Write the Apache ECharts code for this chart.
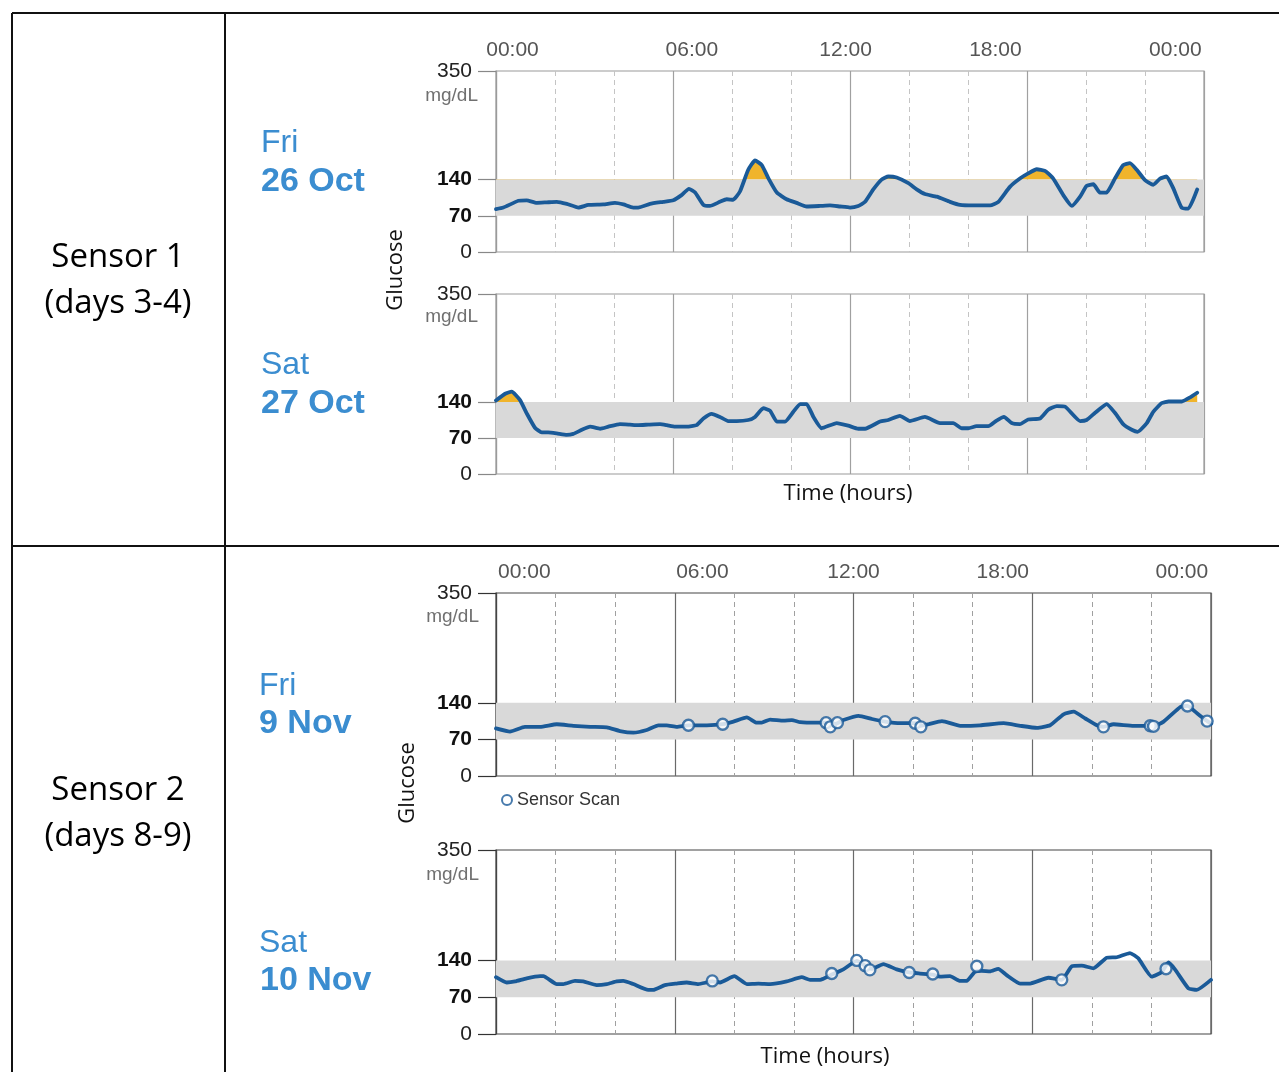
<!DOCTYPE html>
<html><head><meta charset="utf-8">
<script src="https://cdn.jsdelivr.net/npm/echarts@6/dist/echarts.min.js"></script>
<style>html,body{margin:0;padding:0;background:#fff}#c{width:1279px;height:1072px}</style>
</head><body><div id="c"></div><script>
// ---------- data ----------
const timeTickLabels = ['00:00', '06:00', '12:00', '18:00', '00:00'];
const yTickValues = [0, 70, 140, 350];
const targetRange = [70, 140];
const highThreshold = 140;

const hoursFri26 = [0,0.25,0.76,1.04,1.38,1.72,2.06,2.40,2.79,3.13,3.64,4.03,4.32,4.65,4.82,5.22,5.67,6.01,6.29,6.54,6.75,7.03,7.25,7.59,7.82,8.04,8.27,8.55,8.78,9.01,9.23,9.52,9.85,10.19,10.53,10.98,11.32,11.66,12.0,12.28,12.51,12.79,13.07,13.30,13.58,13.98,14.26,14.54,14.94,15.39,15.73,16.18,16.75,17.03,17.42,17.76,18.04,18.33,18.61,18.89,19.23,19.52,19.80,20.02,20.25,20.47,20.70,20.98,21.26,21.49,21.72,22.0,22.28,22.51,22.73,22.96,23.24,23.47,23.77];
const glucoseFri26 = [83,86,99,100,95,96,97,93,86,91,92,95,92,86,86,93,97,100,110,122,115,91,89,97,102,101,117,159,177,168,143,115,102,95,88,89,90,88,86,89,97,121,140,146,144,133,121,112,107,97,91,90,90,97,126,142,152,160,157,142,110,89,107,128,131,115,115,142,168,172,159,139,130,142,146,123,86,84,121];

const hoursSat27 = [0,0.31,0.53,0.81,1.04,1.32,1.55,1.77,2.06,2.40,2.62,2.91,3.19,3.53,3.81,4.20,4.54,4.82,5.16,5.56,5.79,6.07,6.46,6.80,7.03,7.31,7.59,7.87,8.16,8.55,8.78,9.06,9.29,9.52,9.80,10.08,10.31,10.53,10.76,11.04,11.55,11.94,12.28,12.51,13.02,13.30,13.69,14.03,14.54,15.05,15.50,15.79,16.01,16.29,16.69,16.97,17.22,17.48,17.76,18.04,18.44,18.72,19.01,19.29,19.80,20.02,20.31,20.70,20.98,21.26,21.55,21.75,22.06,22.28,22.57,22.80,23.25,23.53,23.77];
const glucoseSat27 = [143,156,160,144,118,90,81,81,79,76,78,86,92,88,92,97,96,95,96,97,95,92,92,95,108,117,111,103,103,105,111,128,123,102,102,121,136,136,111,89,99,94,88,88,102,105,113,103,111,99,99,89,89,93,93,104,111,99,97,106,108,125,132,131,103,105,119,136,119,97,86,82,99,121,138,141,141,149,158];

const hoursFri9 = [0,0.47,0.97,1.48,2.04,2.60,3.16,3.72,4.16,4.61,5.06,5.45,5.73,6.07,6.46,7.08,7.61,7.97,8.42,8.75,8.92,9.20,9.65,9.93,10.21,10.77,11.08,11.22,11.46,11.66,12.17,12.62,13.06,13.57,14.07,14.26,14.52,14.97,15.58,16.25,17.04,17.60,18.16,18.60,19.05,19.39,19.78,20.17,20.39,20.73,21.40,21.96,22.07,22.41,22.97,23.21,23.53,23.87,24.0];
const glucoseFri9 = [91,85,94,94,99,96,94,93,86,83,88,97,97,94,97,97,99,104,112,102,102,108,106,107,103,102,102,97,101,107,115,109,104,101,101,96,99,105,96,97,101,96,92,97,118,123,110,97,94,99,96,96,95,104,132,134,120,105,100];
const scanHoursFri9 = [6.46,7.61,11.08,11.22,11.46,13.06,14.07,14.26,20.39,21.96,22.07,23.21,23.87];
const scanGlucoseFri9 = [97,99,102,94,102,104,101,94,94,96,95,134,105];

const hoursSat10 = [0,0.36,0.64,1.03,1.48,1.59,2.04,2.26,2.65,2.93,3.38,3.72,4.05,4.27,4.61,5.11,5.28,5.67,6.07,6.40,6.79,7.26,7.52,8.00,8.42,8.81,9.20,9.76,10.26,10.54,10.88,11.27,11.66,12.11,12.45,12.62,13.00,13.45,13.87,14.23,14.66,14.90,15.24,15.58,15.80,16.07,16.30,16.58,16.86,17.14,17.59,17.93,18.54,18.99,19.33,19.66,20.05,20.50,20.84,21.28,21.56,22.01,22.35,22.57,22.79,23.24,23.52,24.0];
const glucoseSat10 = [108,98,100,106,110,110,95,95,101,100,93,95,100,101,95,84,84,93,96,98,95,100,98,110,95,96,95,100,108,103,103,113,123,139,128,124,133,123,117,115,113,109,110,101,101,118,120,119,124,112,96,96,107,103,129,130,125,145,146,154,144,109,118,136,123,87,84,103];
const scanHoursSat10 = [7.26,11.27,12.11,12.39,12.55,13.87,14.66,16.14,18.99,22.49];
const scanGlucoseSat10 = [101,115,140,130,122,117,114,129,103,124];

// ---------- layout / style ----------
const pairs = (h, g) => h.map((x, i) => [x, g[i]]);
const panels = [
  { grid: {left: 496, top: 71, width: 708, height: 181}, hours: hoursFri26, glucose: glucoseFri26, highFill: true, dark: false,
    labelAt: [0.56, 6.64, 11.85, 16.93, 23.03] },
  { grid: {left: 496, top: 294, width: 708, height: 180}, hours: hoursSat27, glucose: glucoseSat27, highFill: true, dark: false },
  { grid: {left: 496, top: 593, width: 715, height: 183}, hours: hoursFri9, glucose: glucoseFri9, scanH: scanHoursFri9, scanG: scanGlucoseFri9, dark: true,
    labelAt: [0.95, 6.93, 12.0, 17.01, 23.02] },
  { grid: {left: 496, top: 850, width: 715, height: 184}, hours: hoursSat10, glucose: glucoseSat10, scanH: scanHoursSat10, scanG: scanGlucoseSat10, dark: true }
];
const LINE = '#1a5a98', YELLOW = '#f0b42c', BAND = '#d9d9d9', BLUE_TXT = '#3b8dd0';
const F_SANS = '"Liberation Sans", Arial, sans-serif';
const F_BODY = '"Open Sans", "Noto Sans", sans-serif';

const grids = [], xAxes = [], yAxes = [], series = [];
panels.forEach((p, i) => {
  const border = p.dark ? '#444' : '#9a9a9a';
  grids.push(Object.assign({show: true, borderColor: border, borderWidth: 1.2, backgroundColor: 'transparent'}, p.grid));
  xAxes.push({gridIndex: i, type: 'value', min: 0, max: 24, interval: 2,
    axisLine: {show: false}, axisTick: {show: false}, axisLabel: {show: false},
    splitLine: {show: true, lineStyle: {color: p.dark ? '#a0a0a0' : '#c4c4c4', width: 1, type: [5, 4]}}});
  const lab = p.labelAt;
  xAxes.push({gridIndex: i, type: 'value', position: 'top', min: 0, max: 24, interval: 6,
    axisLine: {show: false}, axisTick: {show: false},
    axisLabel: lab ? {show: true, customValues: lab, margin: 10, color: '#555', fontSize: 21, fontFamily: F_SANS,
      formatter: v => timeTickLabels[lab.findIndex(q => Math.abs(q - v) < 1e-6)] || ''} : {show: false},
    splitLine: {show: true, lineStyle: {color: p.dark ? '#6a6a6a' : '#a0a0a0', width: 1.2}}});
  yAxes.push({gridIndex: i, type: 'value', min: 0, max: 350,
    axisLine: {show: true, lineStyle: {color: border, width: 1.2}},
    axisTick: {show: true, customValues: yTickValues, length: 18, lineStyle: {color: p.dark ? '#333' : '#888', width: 1.2}},
    axisLabel: {show: true, customValues: yTickValues, margin: 24, fontFamily: F_SANS, fontSize: 21, color: '#111',
      formatter: v => (v === 70 || v === 140) ? '{b|' + v + '}' : '{n|' + v + '}',
      rich: {b: {fontWeight: 'bold', fontSize: 21, color: '#111', fontFamily: F_SANS}, n: {fontSize: 21, color: '#222', fontFamily: F_SANS}}},
    splitLine: {show: false}});
  const data = pairs(p.hours, p.glucose);
  if (p.highFill) {
    series.push({type: 'line', xAxisIndex: 2 * i, yAxisIndex: i, data, showSymbol: false, silent: true,
      lineStyle: {width: 0, opacity: 0}, areaStyle: {color: YELLOW, opacity: 1, origin: highThreshold}, z: 1});
  }
  series.push({type: 'line', xAxisIndex: 2 * i, yAxisIndex: i, data: [], silent: true,
    markArea: {silent: true, z: 2, itemStyle: {color: BAND}, data: [[{yAxis: targetRange[0]}, {yAxis: targetRange[1]}]]}, z: 2});
  series.push({type: 'line', name: 'Glucose', xAxisIndex: 2 * i, yAxisIndex: i, data, showSymbol: false, smooth: 0.15,
    lineStyle: {width: 3.8, color: LINE, join: 'round', cap: 'round'}, itemStyle: {color: LINE}, z: 3});
  if (p.scanH) {
    series.push({type: 'scatter', name: 'Sensor Scan', xAxisIndex: 2 * i, yAxisIndex: i, data: pairs(p.scanH, p.scanG),
      symbol: 'circle', symbolSize: 11, itemStyle: {color: '#fff', borderColor: LINE, borderWidth: 2.4}, z: 4});
  }
});

const txt = (x, y, s, font, extra) => Object.assign({type: 'text', x, y,
  style: Object.assign({text: s, font, fill: '#000', textAlign: 'left', textVerticalAlign: 'middle'}, extra || {})});
const ln = (x1, y1, x2, y2) => ({type: 'line', shape: {x1, y1, x2, y2}, style: {stroke: '#111', lineWidth: 2}});

const graphic = [
  ln(12, 13, 1279, 13), ln(12, 13, 12, 1072), ln(225, 13, 225, 1072), ln(12, 546, 1279, 546),
  txt(118, 258, 'Sensor 1', '33px ' + F_BODY, {textAlign: 'center'}),
  txt(118, 304, '(days 3-4)', '33px ' + F_BODY, {textAlign: 'center'}),
  txt(118, 791, 'Sensor 2', '33px ' + F_BODY, {textAlign: 'center'}),
  txt(118, 837, '(days 8-9)', '33px ' + F_BODY, {textAlign: 'center'}),
  txt(261, 143, 'Fri', '32px ' + F_SANS, {fill: BLUE_TXT}),
  txt(261, 182, '26 Oct', 'bold 34px ' + F_SANS, {fill: BLUE_TXT}),
  txt(261, 365, 'Sat', '32px ' + F_SANS, {fill: BLUE_TXT}),
  txt(261, 404, '27 Oct', 'bold 34px ' + F_SANS, {fill: BLUE_TXT}),
  txt(259, 686, 'Fri', '32px ' + F_SANS, {fill: BLUE_TXT}),
  txt(259, 724, '9 Nov', 'bold 34px ' + F_SANS, {fill: BLUE_TXT}),
  txt(259, 943, 'Sat', '32px ' + F_SANS, {fill: BLUE_TXT}),
  txt(260, 981, '10 Nov', 'bold 34px ' + F_SANS, {fill: BLUE_TXT}),
  txt(478, 96, 'mg/dL', '19px ' + F_SANS, {fill: '#707070', textAlign: 'right'}),
  txt(478, 317, 'mg/dL', '19px ' + F_SANS, {fill: '#707070', textAlign: 'right'}),
  txt(479, 617, 'mg/dL', '19px ' + F_SANS, {fill: '#707070', textAlign: 'right'}),
  txt(479, 875, 'mg/dL', '19px ' + F_SANS, {fill: '#707070', textAlign: 'right'}),
  Object.assign(txt(396, 270, 'Glucose', '22px ' + F_BODY, {textAlign: 'center', fill: '#111'}), {rotation: Math.PI / 2}),
  Object.assign(txt(408, 783, 'Glucose', '22px ' + F_BODY, {textAlign: 'center', fill: '#111'}), {rotation: Math.PI / 2}),
  txt(848, 494, 'Time (hours)', '22px ' + F_BODY, {textAlign: 'center', fill: '#111'}),
  txt(825, 1057, 'Time (hours)', '22px ' + F_BODY, {textAlign: 'center', fill: '#111'})
];

const chart = echarts.init(document.getElementById('c'), null, {renderer: 'canvas'});
chart.setOption({
  animation: false,
  backgroundColor: '#fff',
  grid: grids, xAxis: xAxes, yAxis: yAxes, series,
  legend: {data: ['Sensor Scan'], left: 496, top: 786, itemWidth: 10, itemHeight: 10, itemGap: 10,
    textStyle: {fontSize: 18, color: '#333', fontFamily: F_SANS}, selectedMode: false},
  graphic
});
</script></body></html>
